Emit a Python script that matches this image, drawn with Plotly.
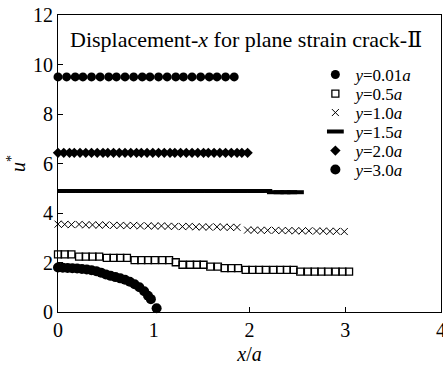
import plotly.graph_objects as go

# ---- data ----
x_001 = [0, 0.09, 0.18, 0.26, 0.35, 0.44, 0.53, 0.61, 0.70, 0.79, 0.88, 0.96,
         1.05, 1.14, 1.23, 1.31, 1.40, 1.49, 1.58, 1.66, 1.75, 1.84]
u_001 = [9.5, 9.5, 9.5, 9.5, 9.5, 9.5, 9.5, 9.5, 9.5, 9.5, 9.5, 9.5,
         9.5, 9.5, 9.5, 9.5, 9.5, 9.5, 9.5, 9.5, 9.5, 9.5]

x_05 = [0, 0.07, 0.14, 0.22, 0.29, 0.36, 0.43, 0.51, 0.58, 0.65, 0.72, 0.80,
        0.87, 0.94, 1.01, 1.09, 1.16, 1.23, 1.30, 1.38, 1.45, 1.52, 1.59, 1.67,
        1.74, 1.81, 1.88, 1.96, 2.03, 2.10, 2.17, 2.25, 2.32, 2.39, 2.46, 2.53,
        2.61, 2.68, 2.75, 2.82, 2.90, 2.97, 3.04]
u_05 = [2.33, 2.33, 2.33, 2.24, 2.24, 2.24, 2.24, 2.19, 2.19, 2.19, 2.19, 2.10,
        2.10, 2.10, 2.10, 2.10, 2.10, 2.01, 1.91, 1.91, 1.91, 1.91, 1.83, 1.83,
        1.77, 1.77, 1.77, 1.70, 1.70, 1.70, 1.70, 1.70, 1.70, 1.70, 1.70, 1.63,
        1.63, 1.63, 1.63, 1.63, 1.63, 1.63, 1.63]

x_10 = [0, 0.07, 0.14, 0.22, 0.29, 0.36, 0.43, 0.50, 0.58, 0.65, 0.72, 0.79,
        0.86, 0.94, 1.01, 1.08, 1.15, 1.22, 1.30, 1.37, 1.44, 1.51, 1.58, 1.66,
        1.73, 1.80, 1.87,
        1.98, 2.05, 2.12, 2.19, 2.27, 2.34, 2.41, 2.48, 2.55, 2.62, 2.70, 2.77,
        2.84, 2.91, 2.99]
u_10 = [3.55, 3.54, 3.53, 3.54, 3.52, 3.52, 3.51, 3.52, 3.50, 3.50, 3.49, 3.50,
        3.48, 3.48, 3.47, 3.48, 3.46, 3.46, 3.45, 3.46, 3.44, 3.44, 3.43, 3.44,
        3.43, 3.42, 3.42,
        3.31, 3.31, 3.30, 3.30, 3.30, 3.29, 3.29, 3.28, 3.28, 3.28, 3.27, 3.27,
        3.26, 3.26, 3.25]

x_15 = [0, 0.09, 0.18, 0.27, 0.36, 0.45, 0.54, 0.63, 0.72, 0.81, 0.90, 0.99,
        1.08, 1.17, 1.26, 1.35, 1.44, 1.53, 1.62, 1.71, 1.80, 1.89, 1.98, 2.07,
        2.15,
        2.27, 2.34, 2.41, 2.48]
u_15 = [4.89, 4.89, 4.89, 4.89, 4.89, 4.89, 4.89, 4.89, 4.89, 4.89, 4.89, 4.89,
        4.89, 4.89, 4.89, 4.89, 4.89, 4.89, 4.89, 4.89, 4.89, 4.89, 4.89, 4.89,
        4.89,
        4.84, 4.84, 4.84, 4.84]

x_20 = [0, 0.06, 0.12, 0.17, 0.23, 0.29, 0.35, 0.41, 0.47, 0.52, 0.58, 0.64,
        0.70, 0.76, 0.82, 0.87, 0.93, 0.99, 1.05, 1.11, 1.17, 1.22, 1.28, 1.34,
        1.40, 1.46, 1.52, 1.57, 1.63, 1.69, 1.75, 1.81, 1.87, 1.92, 1.98]
u_20 = [6.43, 6.43, 6.43, 6.43, 6.43, 6.43, 6.43, 6.43, 6.43, 6.43, 6.43, 6.43,
        6.43, 6.43, 6.43, 6.43, 6.43, 6.43, 6.43, 6.43, 6.43, 6.43, 6.43, 6.43,
        6.43, 6.43, 6.43, 6.43, 6.43, 6.43, 6.43, 6.43, 6.43, 6.43, 6.43]

x_30 = [0, 0.05, 0.10, 0.15, 0.20, 0.25, 0.30, 0.35, 0.40, 0.45, 0.50, 0.55,
        0.60, 0.65, 0.70, 0.75, 0.80, 0.85, 0.90, 0.94, 0.97, 1.03]
u_30 = [1.80, 1.79, 1.78, 1.77, 1.76, 1.74, 1.72, 1.69, 1.65, 1.59, 1.52, 1.46,
        1.41, 1.36, 1.30, 1.22, 1.12, 1.00, 0.84, 0.66, 0.52, 0.15]

series_names = ["<i>y</i>=0.01<i>a</i>", "<i>y</i>=0.5<i>a</i>",
                "<i>y</i>=1.0<i>a</i>", "<i>y</i>=1.5<i>a</i>",
                "<i>y</i>=2.0<i>a</i>", "<i>y</i>=3.0<i>a</i>"]
x_ticks = [0, 1, 2, 3, 4]
y_ticks = [0, 2, 4, 6, 8, 10, 12]

FONT = "Liberation Serif, DejaVu Serif, serif"

marker_styles = [
    dict(symbol="circle", size=9, color="black"),
    dict(symbol="square-open", size=7, color="black", line=dict(width=1.3, color="black")),
    dict(symbol="x-thin-open", size=7, color="black", line=dict(width=1, color="black")),
    dict(symbol="line-ew-open", size=12, color="black", line=dict(width=4, color="black")),
    dict(symbol="diamond", size=8, color="black"),
    dict(symbol="circle", size=10, color="black"),
]
series_x = [x_001, x_05, x_10, x_15, x_20, x_30]
series_u = [u_001, u_05, u_10, u_15, u_20, u_30]
legend_ids = ["legend", "legend2", "legend3", "legend4", "legend5", "legend6"]

fig = go.Figure()
for i in range(6):
    fig.add_trace(go.Scatter(x=series_x[i], y=series_u[i], mode="markers",
                             name=series_names[i], legend=legend_ids[i],
                             cliponaxis=(i == 3), marker=marker_styles[i]))

legend_rows_y = [0.798, 0.734, 0.670, 0.606, 0.542, 0.478]
legend_common = dict(x=0.672, xanchor="left", yanchor="middle",
                     bgcolor="rgba(0,0,0,0)", borderwidth=0,
                     font=dict(family=FONT, size=17, color="black"),
                     itemwidth=30, tracegroupgap=0)
legend_layout = {lid: dict(legend_common, y=legend_rows_y[i])
                 for i, lid in enumerate(legend_ids)}

fig.update_layout(
    width=443, height=365,
    margin=dict(l=58, r=2, t=15, b=53),
    paper_bgcolor="white", plot_bgcolor="white",
    font=dict(family=FONT, size=20, color="black"),
    showlegend=True,
    annotations=[dict(text="Displacement-<i>x</i> for plane strain crack-Ⅱ",
                      xref="paper", yref="paper", x=0.49, y=0.916,
                      xanchor="center", yanchor="middle", showarrow=False,
                      font=dict(family=FONT, size=22, color="black"))],
    **legend_layout,
)
fig.update_xaxes(range=[0, 4], tickvals=x_ticks, ticks="inside", ticklen=5,
                 tickwidth=1, tickcolor="black", showline=True, linecolor="black",
                 linewidth=1, mirror=True, showgrid=False, zeroline=False,
                 automargin=False, ticklabeloverflow="allow",
                 title=dict(text="<i>x</i>/<i>a</i>", font=dict(family=FONT, size=20), standoff=8),
                 tickfont=dict(family=FONT, size=20))
fig.update_yaxes(range=[0, 12], tickvals=y_ticks, ticks="inside", ticklen=5,
                 tickwidth=1, tickcolor="black", showline=True, linecolor="black",
                 linewidth=1, mirror=True, showgrid=False, zeroline=False,
                 automargin=False,
                 title=dict(text="<i>u</i><sup>*</sup>", font=dict(family=FONT, size=20), standoff=2),
                 tickfont=dict(family=FONT, size=20))

fig.write_html("out.html", config={"displayModeBar": False},
               post_script="document.body.style.margin='0px';")
